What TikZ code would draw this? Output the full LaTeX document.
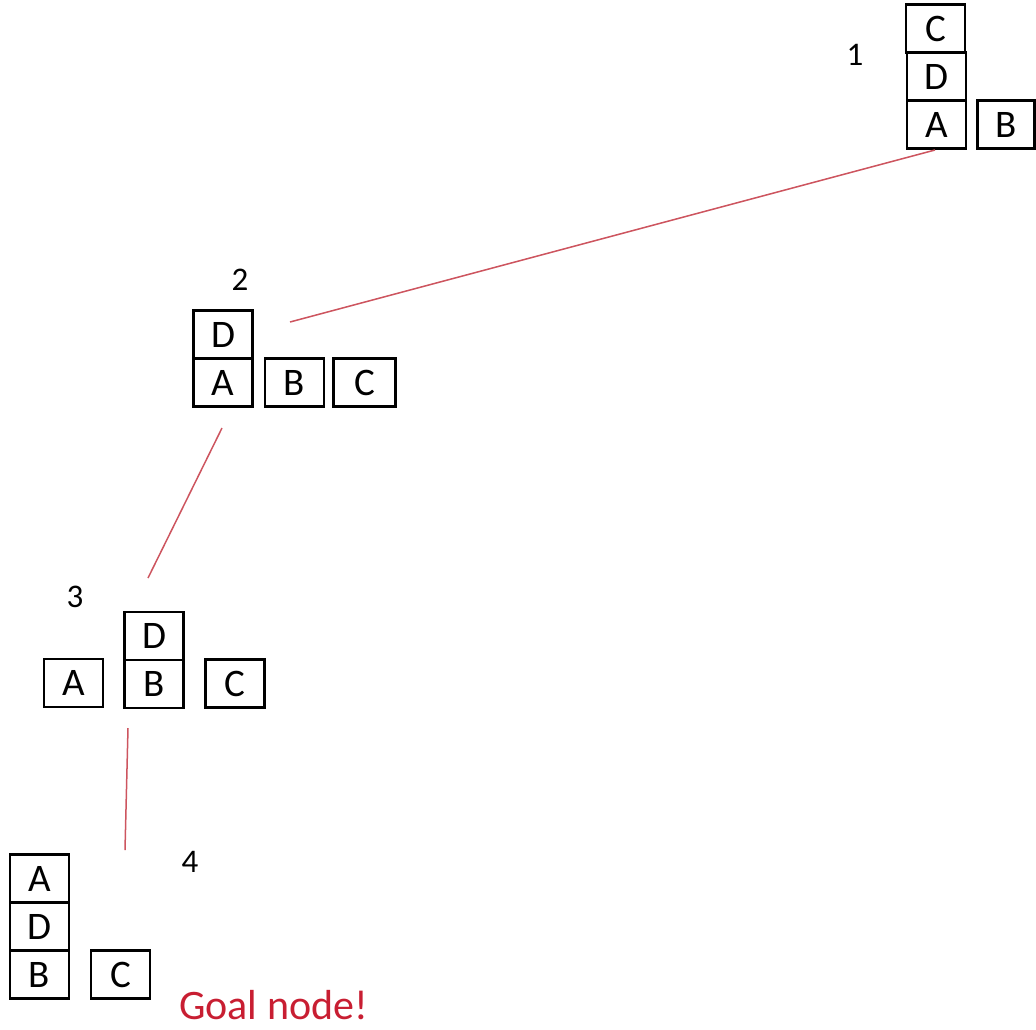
\documentclass[tikz,border=0pt]{standalone}
\usepackage{fontspec}
\setmainfont{Carlito}
\definecolor{linkred}{RGB}{205,85,95}
\definecolor{goalred}{RGB}{200,30,50}
\begin{document}
\begin{tikzpicture}[x=1pt,y=-1pt,
  blk/.style={draw=black,line width=2.3pt,minimum width=59pt,minimum height=48pt,inner sep=0pt,font=\fontsize{39}{39}\selectfont},
  num/.style={inner sep=0pt,font=\fontsize{33}{33}\selectfont},
  link/.style={draw=linkred,line width=1.5pt}]
\useasboundingbox (0,0) rectangle (1036,1029);
% state 1
\node[blk] (a1) at (936.5,124.5) {A};
\node[blk] (d1) at (936.5,76.5) {D};
\node[blk] (c1) at (935.5,28.5) {C};
\node[blk,minimum width=57pt] (b1) at (1006,124.5) {B};
\node[num] (n1) at (855,55) {1};
% state 2
\node[blk] (a2) at (223,382.5) {A};
\node[blk] (d2) at (223,334.5) {D};
\node[blk] (b2) at (294.5,382.5) {B};
\node[blk,minimum width=62pt] (c2) at (364.5,382.5) {C};
\node[num] (n2) at (240,280) {2};
% state 3
\node[blk] (a3) at (73.5,683) {A};
\node[blk] (b3) at (154,684) {B};
\node[blk] (d3) at (154,636) {D};
\node[blk] (c3) at (235,683.5) {C};
\node[num] (n3) at (75,597) {3};
% state 4
\node[blk] (b4) at (39.5,974.5) {B};
\node[blk] (d4) at (39.5,926.5) {D};
\node[blk] (a4) at (39.5,878.5) {A};
\node[blk] (c4) at (120.5,974.5) {C};
\node[num] (n4) at (190,862) {4};
\node[anchor=base west,inner sep=0pt,text=goalred,font=\fontsize{42}{42}\selectfont] (goal) at (179,1019) {Goal node!};
% connectors
\coordinate (e1) at (935,150);
\coordinate (e2) at (290,322);
\coordinate (e3) at (222,428);
\coordinate (e4) at (148,578);
\coordinate (e5) at (128,728);
\coordinate (e6) at (125,850);
\draw[link] (e1) -- (e2);
\draw[link] (e3) -- (e4);
\draw[link] (e5) -- (e6);
\end{tikzpicture}
\end{document}
